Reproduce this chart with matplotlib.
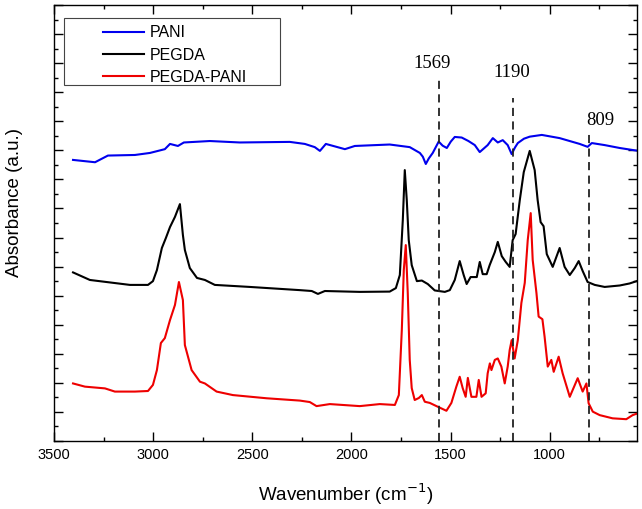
import matplotlib
matplotlib.use("Agg")
import matplotlib.pyplot as plt
from matplotlib.patches import Rectangle
from matplotlib.ticker import MultipleLocator

# spectra (wavenumber cm-1, absorbance a.u. with offsets)
pani_wn = [3404, 3293, 3228, 3092, 3016, 2941, 2915, 2875, 2845, 2714, 2563, 2311,
           2235, 2185, 2159, 2129, 2033, 1983, 1807, 1706, 1655, 1640, 1625, 1610, 1590, 1560,
           1540, 1519, 1499, 1479, 1444, 1410, 1378, 1353, 1333, 1313, 1287, 1262, 1237, 1212, 1192, 1175, 1161,
           1130, 1101, 1040, 950, 849, 809, 788, 723, 647, 562]
pani_abs = [9.67, 9.59, 9.82, 9.84, 9.91, 10.04, 10.22, 10.15, 10.27, 10.32, 10.27, 10.29,
            10.22, 10.11, 9.98, 10.22, 10.04, 10.15, 10.20, 10.11, 9.91, 9.78, 9.53, 9.72, 9.91, 10.30,
            10.16, 10.08, 10.30, 10.46, 10.44, 10.32, 10.18, 9.94, 10.06, 10.18, 10.42, 10.27, 10.35, 10.18, 9.87, 10.10, 10.25,
            10.40, 10.47, 10.53, 10.42, 10.22, 10.12, 10.25, 10.18, 10.08, 9.99]

pegda_wn = [3404, 3319, 3117, 3026, 3001, 2981, 2956, 2936, 2915, 2890, 2865, 2850,
            2840, 2815, 2779, 2739, 2689, 2512, 2260, 2200, 2169, 2134, 1958, 1807,
            1776, 1756, 1741, 1731, 1721, 1711, 1696, 1670, 1645, 1615, 1580, 1529,
            1504, 1479, 1454, 1434, 1419, 1399, 1368, 1353, 1338, 1318, 1303, 1277,
            1262, 1242, 1222, 1202, 1187, 1172, 1151, 1131, 1101, 1076, 1061, 1046,
            1031, 1015, 985, 950, 925, 899, 874, 854, 834, 809, 773, 723, 647, 597, 562]
pegda_abs = [5.80, 5.54, 5.37, 5.37, 5.50, 5.88, 6.64, 6.98, 7.36, 7.71, 8.15, 7.09,
             6.57, 5.95, 5.61, 5.54, 5.37, 5.30, 5.19, 5.16, 5.06, 5.16, 5.13, 5.14,
             5.26, 5.71, 7.60, 9.32, 8.29, 6.91, 6.05, 5.50, 5.52, 5.40, 5.18, 5.13,
             5.19, 5.54, 6.19, 5.71, 5.40, 5.64, 5.64, 6.16, 5.74, 5.74, 6.05, 6.50,
             6.85, 6.36, 6.16, 5.99, 6.91, 7.12, 8.29, 9.25, 9.98, 9.32, 8.29, 7.53,
             7.39, 6.43, 5.99, 6.64, 5.99, 5.71, 5.95, 6.19, 5.85, 5.47, 5.37, 5.30, 5.35, 5.42, 5.50]

mix_wn = [3404, 3344, 3243, 3193, 3092, 3026, 3001, 2981, 2961, 2941, 2915, 2890,
          2870, 2850, 2840, 2806, 2764, 2739, 2680, 2598, 2428, 2260, 2210, 2176,
          2109, 1958, 1857, 1781, 1761, 1746, 1736, 1726, 1716, 1706, 1696, 1681,
          1660, 1645, 1630, 1605, 1565, 1521, 1496, 1471, 1454, 1439, 1424, 1413,
          1395, 1370, 1358, 1344, 1323, 1313, 1302, 1294, 1277, 1262, 1244, 1227,
          1212, 1202, 1192, 1177, 1161, 1143, 1126, 1111, 1096, 1086, 1067, 1056,
          1037, 1026, 1010, 992, 980, 955, 935, 899, 859, 834, 815, 804, 783, 748,
          683, 614, 582, 557]
mix_abs = [1.98, 1.87, 1.81, 1.70, 1.70, 1.72, 1.93, 2.44, 3.37, 3.54, 4.16, 4.68,
           5.47, 4.85, 3.30, 2.44, 2.04, 1.98, 1.70, 1.58, 1.47, 1.39, 1.34, 1.20,
           1.27, 1.20, 1.27, 1.24, 1.58, 3.82, 5.88, 6.74, 5.09, 2.79, 1.82, 1.41,
           1.48, 1.58, 1.35, 1.31, 1.18, 1.04, 1.31, 1.87, 2.21, 1.82, 1.52, 2.17,
           1.52, 1.52, 2.10, 1.52, 1.64, 2.33, 2.67, 2.44, 2.79, 2.84, 2.56, 1.98,
           2.56, 3.13, 3.47, 2.84, 3.47, 4.75, 5.44, 6.91, 7.84, 6.23, 5.09, 4.28,
           4.19, 3.59, 2.56, 2.79, 2.38, 2.90, 2.33, 1.52, 2.16, 1.70, 1.98, 1.30,
           1.01, 0.89, 0.78, 0.75, 0.89, 0.95]

# dashed marker lines: drawn position, label, top of dash, label position
mark_pos = [1557, 1183, 802]
mark_text = ["1569", "1190", "809"]
mark_top = [12.45, 11.8, 10.6]
mark_label_x = [1595, 1189, 745]
mark_label_y = [13.0, 12.68, 11.04]

fig = plt.figure(figsize=(6.42, 5.09), dpi=100)
ax = fig.add_axes([0.0841, 0.1336, 0.9081, 0.8566])

ax.plot(pani_wn, pani_abs, color="#0000ee", lw=1.5, label="PANI")
ax.plot(pegda_wn, pegda_abs, color="black", lw=1.5, label="PEGDA")
ax.plot(mix_wn, mix_abs, color="#ee0000", lw=1.5, label="PEGDA-PANI")

for pos, txt, top, lx, ly in zip(mark_pos, mark_text, mark_top, mark_label_x, mark_label_y):
    ax.plot([pos, pos], [0, top], color="#222222", lw=1.3, ls=(0, (4.5, 3)))
    ax.text(lx, ly, txt, ha="center", va="center", fontsize=13.5,
            family="Liberation Serif")

ax.set_xlim(3500, 560)
ax.set_ylim(0, 15)
ax.xaxis.set_major_locator(MultipleLocator(500))
ax.xaxis.set_minor_locator(MultipleLocator(250))
ax.yaxis.set_major_locator(MultipleLocator(1))
ax.yaxis.set_minor_locator(MultipleLocator(0.5))
ax.tick_params(which="both", direction="in", top=True, right=True, width=1)
ax.tick_params(which="major", length=6.5, pad=5, labelsize=10.5)
ax.tick_params(which="minor", length=3)
ax.tick_params(axis="y", labelleft=False)
for s in ax.spines.values():
    s.set_linewidth(1.0)

ax.set_xlabel("Wavenumber (cm$^{-1}$)", fontsize=13.5, family="Liberation Sans")
ax.set_ylabel("Absorbance (a.u.)", fontsize=13.5, family="Liberation Sans")
ax.xaxis.set_label_coords(0.5, -0.093)
ax.yaxis.set_label_coords(-0.053, 0.548)
for t in ax.get_xticklabels():
    t.set_family("Liberation Sans")

# legend frame drawn separately to get the wide left margin
ax.add_patch(Rectangle((0.017, 0.8165), 0.3705, 0.1537, transform=ax.transAxes,
                       fill=False, edgecolor="#444444", lw=0.8, zorder=4))
leg = ax.legend(loc="upper left", bbox_to_anchor=(0.084, 0.953), frameon=False,
                borderpad=0, borderaxespad=0, handlelength=2.6, handletextpad=0.3,
                labelspacing=0.45, prop={"family": "Liberation Sans", "size": 11.5})

fig.savefig("out.png", dpi=100)
